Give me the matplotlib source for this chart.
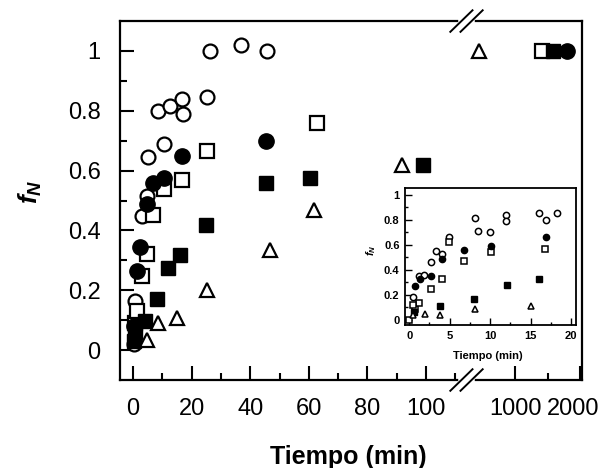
import numpy as np
import matplotlib
matplotlib.use("Agg")
import matplotlib.pyplot as plt
import matplotlib.transforms as mtransforms
from matplotlib.ticker import FixedLocator, FixedFormatter, NullFormatter

plt.rcParams["font.family"] = ["Liberation Sans", "DejaVu Sans"]
plt.rcParams["mathtext.fontset"] = "custom"
plt.rcParams["mathtext.it"] = "Liberation Sans:italic:bold"
plt.rcParams["mathtext.rm"] = "Liberation Sans"

# ---- main plot data (tiempo en min, f_N) ----
oc_t = [0.2, 0.8, 3.1, 4.8, 5.2, 8.4, 10.7, 12.6, 16.6, 17.0, 25.4, 26.3, 36.9, 45.6]
oc_f = [0.02, 0.164, 0.448, 0.514, 0.645, 0.80, 0.69, 0.817, 0.84, 0.79, 0.845, 1.0, 1.02, 1.0]

fc_t = [0.5, 1.4, 2.3, 4.8, 6.9, 10.6, 16.6, 45.3, 1793]
fc_f = [0.08, 0.264, 0.346, 0.49, 0.56, 0.575, 0.65, 0.70, 1.0]

os_t = [0.8, 1.4, 3.1, 4.8, 7.0, 10.7, 16.8, 25.1, 62.7, 1410]
os_f = [0.092, 0.131, 0.248, 0.32, 0.453, 0.537, 0.567, 0.667, 0.76, 1.0]

fs_t = [0.3, 0.8, 4.2, 8.2, 12.1, 16.2, 25.0, 45.4, 60.4, 99.1, 1586]
fs_f = [0.03, 0.059, 0.098, 0.17, 0.276, 0.317, 0.417, 0.56, 0.576, 0.618, 1.0]

tr_t = [4.8, 8.7, 15.0, 25.3, 46.6, 61.7, 91.7, 446]
tr_f = [0.034, 0.089, 0.107, 0.20, 0.334, 0.47, 0.62, 1.0]

x_major = [0, 20, 40, 60, 80, 100, 1000, 2000]
x_minor = [10, 30, 50, 70, 90, 110, 1500]
y_major = [0, 0.2, 0.4, 0.6, 0.8, 1.0]
y_labels = ["0", "0.2", "0.4", "0.6", "0.8", "1"]

# ---- inset data (0-20 min) ----
ioc_t = [0.53, 1.16, 1.8, 2.7, 3.35, 4.0, 4.9, 8.1, 8.5, 10.0, 12.0, 12.0, 16.1, 16.9, 18.3]
ioc_f = [0.18, 0.35, 0.36, 0.46, 0.55, 0.53, 0.66, 0.81, 0.71, 0.70, 0.84, 0.79, 0.85, 0.80, 0.85]

ifc_t = [0.75, 1.37, 2.7, 4.0, 6.8, 10.1, 16.9]
ifc_f = [0.27, 0.325, 0.35, 0.49, 0.56, 0.59, 0.66]

ios_t = [0.0, 0.75, 1.2, 0.5, 2.7, 4.0, 4.9, 6.75, 10.1, 16.8]
ios_f = [0.0, 0.09, 0.135, 0.12, 0.25, 0.325, 0.62, 0.47, 0.54, 0.565]

ifs_t = [0.6, 3.77, 8.07, 12.1, 16.1]
ifs_f = [0.06, 0.11, 0.17, 0.28, 0.325]

itr_t = [0.5, 1.9, 3.85, 8.1, 15.0]
itr_f = [0.04, 0.05, 0.04, 0.09, 0.11]

# broken time axis: linear up to ~115 min, then compressed long times
T_KNOTS = [-1000, 115, 400, 5000]
U_KNOTS = [-1000, 115, 117.08, 117.08 + 4600 * 0.0222]


def fwd(t):
    return np.interp(t, T_KNOTS, U_KNOTS)


def inv(u):
    return np.interp(u, U_KNOTS, T_KNOTS)


fig = plt.figure(figsize=(6.12, 4.68), dpi=100)
ax = fig.add_axes([0.196, 0.188, 0.755, 0.767])
ax.set_xscale("function", functions=(fwd, inv))

open_kw = dict(linestyle="none", mfc="white", mec="black", mew=1.6)
fill_kw = dict(linestyle="none", color="black")

ax.plot(oc_t, oc_f, marker="o", ms=10, **open_kw)
ax.plot(os_t, os_f, marker="s", ms=9.5, **open_kw)
ax.plot(fc_t, fc_f, marker="o", ms=11, **fill_kw)
ax.plot(fs_t, fs_f, marker="s", ms=10.5, **fill_kw)
ax.plot(tr_t, tr_f, marker="^", ms=10.5, **open_kw)

ax.set_xlim(-4.44, 2027)
ax.set_ylim(-0.1, 1.1)

ax.xaxis.set_major_locator(FixedLocator(x_major))
ax.xaxis.set_major_formatter(FixedFormatter([str(v) for v in x_major]))
ax.xaxis.set_minor_locator(FixedLocator(x_minor))
ax.xaxis.set_minor_formatter(NullFormatter())
ax.yaxis.set_major_locator(FixedLocator(y_major))
ax.yaxis.set_major_formatter(FixedFormatter(y_labels))
ax.yaxis.set_minor_locator(FixedLocator([0.1, 0.3, 0.5, 0.7, 0.9]))

ax.tick_params(which="both", direction="in", width=1.5, top=False, right=False)
ax.tick_params(which="major", length=10, labelsize=17)
ax.tick_params(which="minor", length=5)
ax.tick_params(axis="x", pad=13)
ax.tick_params(axis="y", pad=14)
for s in ax.spines.values():
    s.set_linewidth(1.6)

# the "2000" label sits a little left of its tick in the original
lab2000 = ax.xaxis.get_major_ticks()[-1].label1
lab2000.set_transform(lab2000.get_transform() +
                      mtransforms.ScaledTranslation(-7 / 100, 0, fig.dpi_scale_trans))

ax.set_xlabel("Tiempo (min)", fontsize=18, fontweight="bold")
ax.xaxis.set_label_coords(0.494, -0.18)
ax.set_ylabel(r"$f_N$", fontsize=19)
ax.yaxis.set_label_coords(-0.165, 0.525)

# "//" break marks on top and bottom spines
for yb in (0.0, 1.0):
    ax.plot([0.738, 0.762], [yb, yb], transform=ax.transAxes, color="white",
            lw=4, clip_on=False, zorder=5)
    for off in (-0.011, 0.011):
        ax.plot([0.75 + off - 0.024, 0.75 + off + 0.024], [yb - 0.03, yb + 0.03],
                transform=ax.transAxes, color="black", lw=1.4, clip_on=False, zorder=6)

# ---- inset ----
ins = fig.add_axes([0.662, 0.3056, 0.279, 0.292])
ins_open = dict(linestyle="none", mfc="white", mec="black", mew=1.1)
ins.plot(ioc_t, ioc_f, marker="o", ms=4.5, **ins_open)
ins.plot(ios_t, ios_f, marker="s", ms=4, **ins_open)
ins.plot(ifc_t, ifc_f, marker="o", ms=4.5, **fill_kw)
ins.plot(ifs_t, ifs_f, marker="s", ms=4.5, **fill_kw)
ins.plot(itr_t, itr_f, marker="^", ms=5, **ins_open)

ins.set_xlim(-0.5, 20.6)
ins.set_ylim(-0.04, 1.05)
ins.xaxis.set_major_locator(FixedLocator([0, 5, 10, 15, 20]))
ins.xaxis.set_minor_locator(FixedLocator([2.5, 7.5, 12.5, 17.5]))
ins.yaxis.set_major_locator(FixedLocator(y_major))
ins.yaxis.set_major_formatter(FixedFormatter(y_labels))
ins.yaxis.set_minor_locator(FixedLocator([0.1, 0.3, 0.5, 0.7, 0.9]))
ins.tick_params(which="both", direction="in", width=1.0, top=False, right=False)
ins.tick_params(which="major", length=5, labelsize=8, pad=4)
ins.tick_params(which="minor", length=2.5)
for lab in ins.get_xticklabels() + ins.get_yticklabels():
    lab.set_fontweight("bold")
for s in ins.spines.values():
    s.set_linewidth(1.3)
ins.set_xlabel("Tiempo (min)", fontsize=8, fontweight="bold")
ins.xaxis.set_label_coords(0.485, -0.19)
ins.set_ylabel(r"$f_N$", fontsize=8)
ins.yaxis.set_label_coords(-0.16, 0.55)

fig.savefig("out.png", dpi=100)
